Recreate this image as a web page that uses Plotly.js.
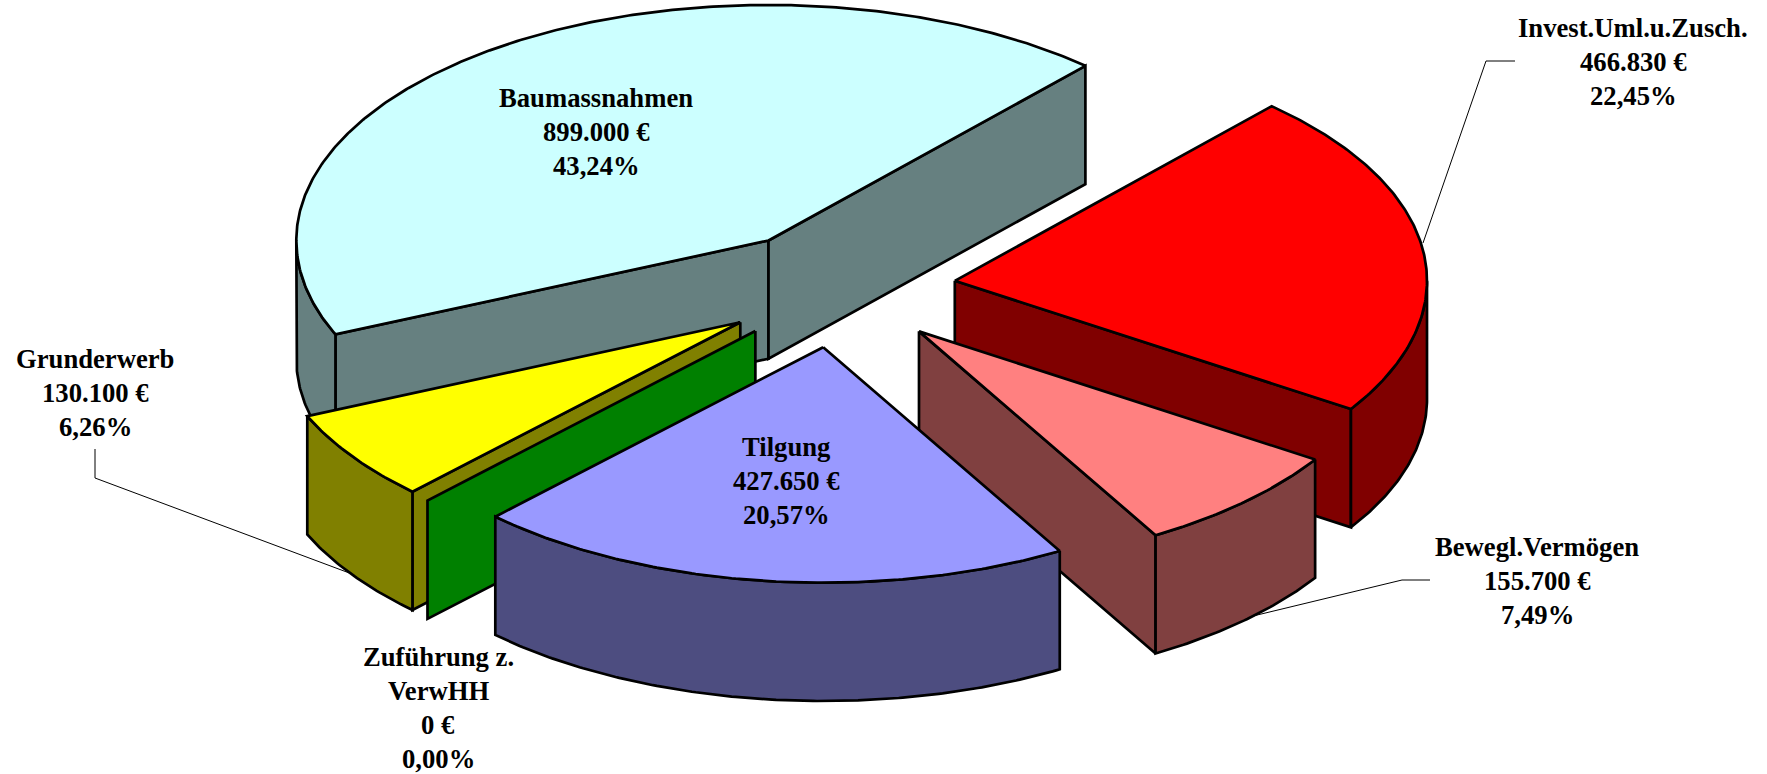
<!DOCTYPE html>
<html><head><meta charset="utf-8">
<script src="https://cdn.plot.ly/plotly-3.0.1.min.js"></script>
<style>html,body{margin:0;padding:0;background:#fff;overflow:hidden}#chart{width:1767px;height:774px}</style>
</head><body><div id="chart"></div>
<script>
// Data, clockwise from the start of the first slice
const categories = ["Invest.Uml.u.Zusch.", "Bewegl.Vermögen", "Tilgung", "Zuführung z.|VerwHH", "Grunderwerb", "Baumassnahmen"];
const amounts    = [466830, 155700, 427650, 0, 130100, 899000];
const valueLabels   = ["466.830 €", "155.700 €", "427.650 €", "0 €", "130.100 €", "899.000 €"];
const percentLabels = ["22,45%", "7,49%", "20,57%", "0,00%", "6,26%", "43,24%"];

// Styling, per category
const topColors  = ["#FF0000", "#FF8080", "#9999FF", "#00FF00", "#FFFF00", "#CCFFFF"];
const sideColors = ["#800000", "#804040", "#4D4D80", "#008000", "#808000", "#668080"];
const labelCenters = [[1633, 28], [1537, 547], [786, 447], [438, 657], [95, 359], [596, 98]];
const drawOrder = [5, 0, 4, 3, 1, 2];

// 3D pie projection
const cx = 837.5, cy = 288.5, rx = 472.2, ry = 235.5, depth = 118.3, explode = 118.3;
const startDeg = 47.85;
const lineH = 34;

const total = amounts.reduce((s, v) => s + v, 0);
const rad = d => d * Math.PI / 180;
let running = startDeg;
const slices = amounts.map((v, i) => {
  const t1 = running, t2 = running - v / total * 360;
  running = t2;
  const mid = rad((t1 + t2) / 2);
  return { i, t1, t2, ax: cx + explode * Math.cos(mid), ay: cy - explode * 0.5 * Math.sin(mid) };
});
const pt = (s, d, dz) => [s.ax + rx * Math.cos(rad(d)), s.ay - ry * Math.sin(rad(d)) + (dz || 0)];
function arc(s, from, to, dz) {
  const n = Math.max(2, Math.ceil(Math.abs(to - from) / 0.5)), out = [];
  for (let k = 0; k <= n; k++) out.push(pt(s, from + (to - from) * k / n, dz));
  return out;
}
const traces = [];
function poly(points, fill) {
  const closed = points.concat([points[0]]);
  traces.push({
    type: "scatter", mode: "lines", x: closed.map(p => p[0]), y: closed.map(p => p[1]),
    fill: "toself", fillcolor: fill, line: { color: "#000", width: 2.7, shape: "linear" },
    hoverinfo: "skip", showlegend: false
  });
}
function cutFace(s, d, fill) {
  poly([[s.ax, s.ay], pt(s, d), pt(s, d, depth), [s.ax, s.ay + depth]], fill);
}
function leaderTrace(xs, ys) {
  traces.push({ type: "scatter", mode: "lines", x: xs, y: ys, line: { color: "#000", width: 1 }, hoverinfo: "skip", showlegend: false });
}
// leader lines sit beneath the pie
leaderTrace([1423, 1486, 1515], [243, 61, 61]);
leaderTrace([1253, 1402, 1430], [616, 580, 580]);
leaderTrace([95, 95, 352], [449, 478, 574]);

drawOrder.forEach(idx => {
  const s = slices[idx], side = sideColors[idx];
  const a = s.t1, b = s.t2;
  if (a !== b) {
    if (Math.cos(rad(a)) < 0) cutFace(s, a, side);
    if (Math.cos(rad(b)) > 0) cutFace(s, b, side);
    // visible rim: the part of [b, a] facing the viewer, i.e. inside [-180, 0]
    const hi = Math.min(a, 0), lo = Math.max(b, -180);
    if (hi > lo) poly(arc(s, hi, lo, 0).concat(arc(s, lo, hi, depth)), side);
    // top face
    poly([[s.ax, s.ay]].concat(arc(s, a, b, 0)), topColors[idx]);
  } else {
    // zero-value slice: only its cut wall shows
    cutFace(s, a, side);
  }
});

const annotations = [];
categories.forEach((name, i) => {
  const lines = name.split("|").concat([valueLabels[i], percentLabels[i]]);
  lines.forEach((text, k) => annotations.push({
    x: labelCenters[i][0], y: labelCenters[i][1] + k * lineH, xref: "x", yref: "y",
    text: text, showarrow: false, xanchor: "center", yanchor: "middle",
    font: { family: "Liberation Serif", size: 26.67, color: "#000", weight: 700 }
  }));
});

Plotly.newPlot("chart", traces, {
  width: 1767, height: 774, margin: { l: 0, r: 0, t: 0, b: 0 },
  paper_bgcolor: "#fff", plot_bgcolor: "#fff", showlegend: false,
  xaxis: { range: [0, 1767], visible: false, fixedrange: true },
  yaxis: { range: [774, 0], visible: false, fixedrange: true },
  annotations: annotations
}, { displayModeBar: false, staticPlot: true });
</script></body></html>
